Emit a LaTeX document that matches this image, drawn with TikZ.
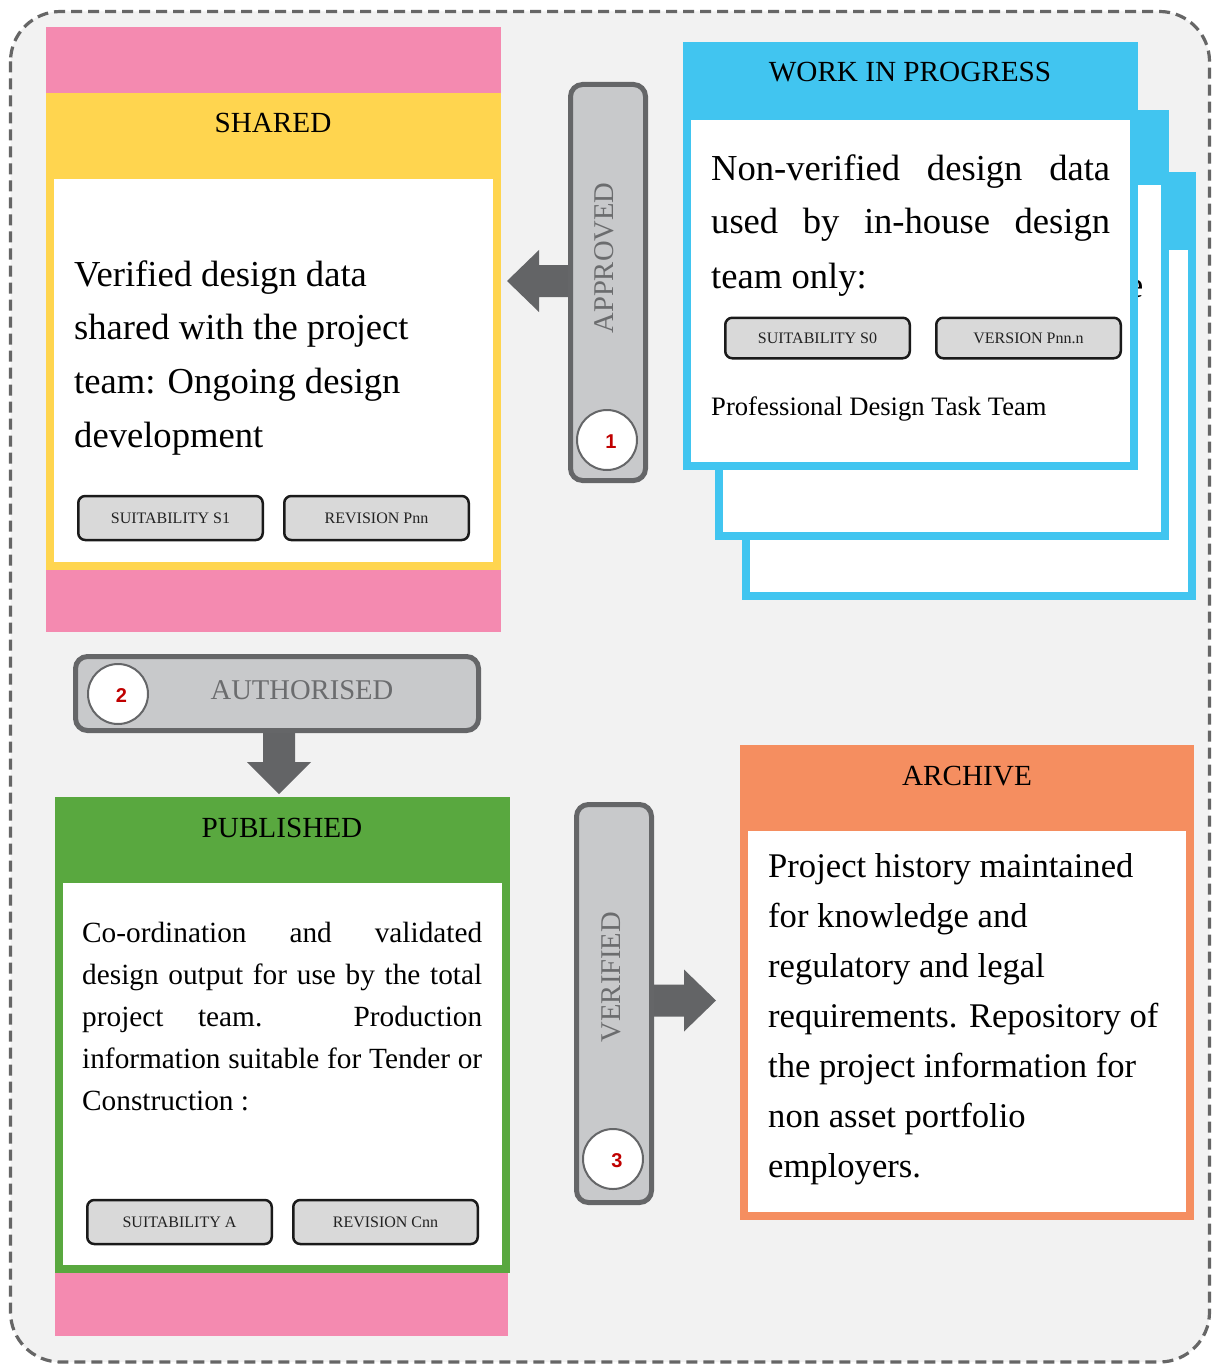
\documentclass[tikz,border=0pt]{standalone}
\usepackage{fontspec}
\setmainfont{Liberation Serif}
\newfontfamily\numfont{Liberation Sans}
\usetikzlibrary{calc}
\definecolor{bgc}{HTML}{F2F2F2}
\definecolor{dashc}{HTML}{666666}
\definecolor{pinkc}{HTML}{F48AB0}
\definecolor{yellowc}{HTML}{FFD54F}
\definecolor{bluec}{HTML}{41C5F0}
\definecolor{greenc}{HTML}{59A83F}
\definecolor{orangec}{HTML}{F58E60}
\definecolor{barfill}{HTML}{C8C9CB}
\definecolor{barline}{HTML}{656668}
\definecolor{arrowc}{HTML}{636466}
\definecolor{bartextc}{HTML}{6B6C6E}
\definecolor{btnfill}{HTML}{D9D9D9}
\definecolor{btnline}{HTML}{1A1A1A}
\definecolor{btntext}{HTML}{222222}
\definecolor{numred}{HTML}{C00000}
\newcommand\myfs[2]{\fontsize{#1}{#2}\selectfont}
\begin{document}
\begin{tikzpicture}[x=1pt,y=-1pt,
  panel/.style={rectangle, inner sep=0pt, outer sep=0pt, anchor=north west, draw=none},
  titletext/.style={font=\myfs{29.2}{35}, text=black, inner sep=0pt},
  bodybig/.style={font=\myfs{36.6}{54}, anchor=base west, inner sep=0pt, text=black},
  bodyarch/.style={font=\myfs{34.6}{50}, anchor=base west, inner sep=0pt, text=black},
  bodypub/.style={font=\myfs{29.3}{42}, anchor=base west, inner sep=0pt, text=black},
  btn/.style={rectangle, rounded corners=7pt, draw=btnline, line width=2.5pt, fill=btnfill, minimum width=184.5pt, minimum height=44pt, inner sep=0pt, font=\myfs{16}{16}, text=btntext},
  barbox/.style={rectangle, rounded corners=12pt, draw=barline, line width=5pt, fill=barfill, inner sep=0pt},
  numcirc/.style={circle, draw=barline, line width=2pt, fill=white, minimum size=60pt, inner sep=0pt},
  numtext/.style={inner sep=0pt, font=\numfont\bfseries\myfs{20}{20}, text=numred},
  bartext/.style={font=\myfs{28.6}{30}, text=bartextc, inner sep=0pt},
  blockarrow/.style={fill=arrowc}
]
\useasboundingbox (0,0) rectangle (1212,1364);
\fill[white] (0,0) rectangle (1212,1364);
\draw[dashc, fill=bgc, line width=3.2pt, dash pattern=on 11pt off 6pt, rounded corners=50pt] (10.5,11.5) rectangle (1209.5,1362);

% SHARED
\node[panel, fill=pinkc, minimum width=455pt, minimum height=605pt] (sharedbg) at (46,27) {};
\node[panel, fill=yellowc, minimum width=455pt, minimum height=477pt] (shared) at (46,93) {};
\node[panel, fill=white, minimum width=439pt, minimum height=383pt] (sharedin) at (54,179) {};
\node[titletext] (sharedt) at (273,123) {SHARED};
\node[bodybig] (s1) at (74,286) {Verified design data};
\node[bodybig] (s2) at (74,339) {shared with the project};
\node[bodybig] (s3) at (74,393) {team: Ongoing design};
\node[bodybig] (s4) at (74,447) {development};
\node[btn] (sb1) at (170.5,518) {SUITABILITY S1};
\node[btn] (sb2) at (376.5,518) {REVISION Pnn};

% WORK IN PROGRESS stack
\node[panel, fill=bluec, minimum width=454pt, minimum height=428pt] (wip3) at (742,172) {};
\node[panel, fill=white, minimum width=438pt, minimum height=342pt] (wip3in) at (750,250) {};
\node[panel, fill=bluec, minimum width=454pt, minimum height=430pt] (wip2) at (715,110) {};
\node[panel, fill=white, minimum width=438pt, minimum height=347pt] (wip2in) at (723,185) {};
\node[bodybig] (wip2e) at (1127,297) {e};
\node[panel, fill=bluec, minimum width=455pt, minimum height=428pt] (wip) at (683,42) {};
\node[panel, fill=white, minimum width=439pt, minimum height=342pt] (wipin) at (691,120) {};
\node[titletext] (wipt) at (910,72) {WORK IN PROGRESS};
\node[bodybig] (w1) at (711,181) {\makebox[399pt][s]{Non-verified design data}};
\node[bodybig] (w2) at (711,234) {\makebox[399pt][s]{used by in-house design}};
\node[bodybig] (w3) at (711,288) {team only:};
\node[btn, minimum height=40.5pt] (wb1) at (817.5,338) {SUITABILITY S0};
\node[btn, minimum height=40.5pt] (wb2) at (1028.5,338) {VERSION Pnn.n};
\node[font=\myfs{26.6}{30}, anchor=base west, inner sep=0pt] (w4) at (711,415) {Professional Design Task Team};

% PUBLISHED
\node[panel, fill=pinkc, minimum width=453pt, minimum height=70pt] (pubbg) at (55,1266) {};
\node[panel, fill=greenc, minimum width=455pt, minimum height=476pt] (pub) at (55,797) {};
\node[panel, fill=white, minimum width=439pt, minimum height=382pt] (pubin) at (63,883) {};
\node[titletext] (pubt) at (282,828) {PUBLISHED};
\node[bodypub] (p1) at (82,942) {\makebox[400pt][s]{Co-ordination and validated}};
\node[bodypub] (p2) at (82,984) {\makebox[400pt][s]{design output for use by the total}};
\node[bodypub] (p3) at (82,1026) {\makebox[400pt][s]{project team. Production}};
\node[bodypub] (p4) at (82,1068) {\makebox[400pt][s]{information suitable for Tender or}};
\node[bodypub] (p5) at (82,1110) {Construction :};
\node[btn] (pb1) at (179.5,1222) {SUITABILITY A};
\node[btn] (pb2) at (385.5,1222) {REVISION Cnn};

% ARCHIVE
\node[panel, fill=orangec, minimum width=454pt, minimum height=475pt] (arch) at (740,745) {};
\node[panel, fill=white, minimum width=438pt, minimum height=381pt] (archin) at (748,831) {};
\node[titletext] (archt) at (967,776) {ARCHIVE};
\node[bodyarch] (a1) at (768,877.5) {Project history maintained};
\node[bodyarch] (a2) at (768,927.5) {for knowledge and};
\node[bodyarch] (a3) at (768,977.5) {regulatory and legal};
\node[bodyarch] (a4) at (768,1027.5) {requirements. Repository of};
\node[bodyarch] (a5) at (768,1077.5) {the project information for};
\node[bodyarch] (a6) at (768,1127.5) {non asset portfolio};
\node[bodyarch] (a7) at (768,1177.5) {employers.};

% block arrows
\coordinate (tipL) at (507,281);
\coordinate (tipD) at (279,794);
\coordinate (tipR) at (716,1000.5);
\begin{scope}[shift={(tipL)}]
\fill[blockarrow] (0,0) -- (32,-31) -- (32,-16) -- (80,-16) -- (80,16) -- (32,16) -- (32,31) -- cycle;
\end{scope}
\begin{scope}[shift={(tipD)}]
\fill[blockarrow] (0,0) -- (-32,-32) -- (-16,-32) -- (-16,-80) -- (16,-80) -- (16,-32) -- (32,-32) -- cycle;
\end{scope}
\begin{scope}[shift={(tipR)}]
\fill[blockarrow] (0,0) -- (-32,-31) -- (-32,-16) -- (-80,-16) -- (-80,16) -- (-32,16) -- (-32,31) -- cycle;
\end{scope}

% bars
\node[barbox, minimum width=75pt, minimum height=396pt] (approved) at (608,282.5) {};
\node[bartext, rotate=90] (approvedt) at (604,258) {APPROVED};
\node[numcirc] (n1) at (607,440) {};
\node[numtext] (n1t) at (611,442) {1};

\node[barbox, minimum width=403pt, minimum height=74pt] (authorised) at (277,693.5) {};
\node[bartext] (authorisedt) at (302,690) {AUTHORISED};
\node[numcirc] (n2) at (118,694) {};
\node[numtext] (n2t) at (121.5,696) {2};

\node[barbox, minimum width=75pt, minimum height=398pt] (verified) at (614,1003.5) {};
\node[bartext, rotate=90] (verifiedt) at (611,977) {VERIFIED};
\node[numcirc] (n3) at (613,1159) {};
\node[numtext] (n3t) at (617,1161) {3};
\end{tikzpicture}
\end{document}
